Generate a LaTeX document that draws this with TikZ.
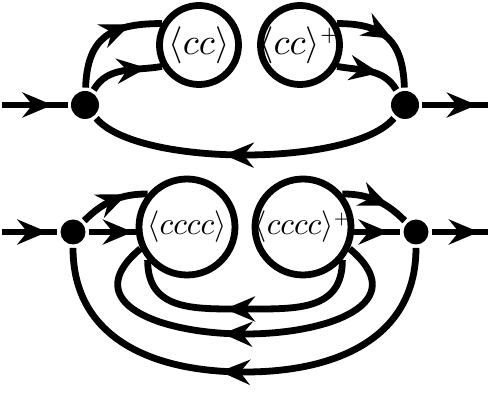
\documentclass[tikz,border=0pt]{standalone}
\usepackage{amsmath}
\usepackage{graphicx}
\usetikzlibrary{arrows.meta,positioning,calc,decorations.markings}
\tikzset{
  flow/.style={postaction={decorate},decoration={markings,
    mark=at position #1 with {\arrow[xshift=15pt]{Stealth[length=30pt,width=25pt,inset=10pt]}}}},
  flow/.default=0.5,
  vertex/.style={circle,fill,inner sep=0pt,minimum size=#1},
  vertex/.default=28pt,
  blob/.style={circle,draw,fill=white,inner sep=0pt,minimum size=#1},
}
\newcommand{\corr}[2][3.7]{\makebox[0pt]{\scalebox{#1}{$#2$}}}

\begin{document}
\begin{tikzpicture}[x=1pt,y=1pt,line width=6.8pt]
  \useasboundingbox (0,0) rectangle (490,393);

  % two-point loop
  \node[vertex] (L1) at (85,288) {};
  \node[vertex] (R1) at (405,288) {};
  \node[blob=79pt] (A) at (199,348) {\corr{\langle cc\rangle}};
  \node[blob=79pt] (B) at (300,348) {\corr{\langle cc\rangle^{\scriptscriptstyle +}}};
  \coordinate (in1) at (2,288);
  \coordinate (out1) at (488,288);
  \draw[flow=0.6] (L1) to[out=88,in=180,looseness=1.3] (A.150);
  \draw[flow=0.6] (L1) to[out=60,in=190] (A.210);
  \draw[flow=0.4] (B.30) to[out=0,in=92,looseness=1.3] (R1);
  \draw[flow=0.42] (B.330) to[out=-10,in=120] (R1);
  \draw[flow=0.52] (R1) to[out=-130,in=-50,looseness=0.55] (L1);

  % four-point loop
  \node[vertex=25pt] (L2) at (73,161) {};
  \node[vertex=25pt] (R2) at (416,161) {};
  \node[blob=96pt] (C) at (187,166) {\corr[3.15]{\langle cccc\rangle}};
  \node[blob=96pt] (D) at (303,166) {\corr[3.15]{\langle cccc\rangle^{\scriptscriptstyle +}}};
  \coordinate (in2) at (2,161);
  \coordinate (out2) at (488,161);
  \coordinate (low1) at (245,84);
  \coordinate (low2) at (245,59);
  \coordinate (low3) at (245,21);
  \draw[flow=0.5] (L2) to[out=45,in=180] (C.140);
  \draw[flow=0.62] (L2) -- (C.west |- L2);
  \draw[flow=0.48] (D.40) to[out=0,in=135] (R2);
  \draw[flow=0.42] (D.east |- R2) -- (R2);
  \draw[flow=0.52] (D.-40) to[out=-90,in=0,looseness=1.2] (low1) to[out=180,in=-90,looseness=1.2] (C.-140);
  \draw[flow=0.52] (D.-25) to[out=-40,in=0,looseness=1.6] (low2) to[out=180,in=-140,looseness=1.6] (C.-155);
  \draw[flow=0.52] (R2) to[out=-90,in=0,looseness=1.1] (low3) to[out=180,in=-90,looseness=1.1] (L2);

  \foreach \a/\b/\p in {in1/L1/0.54,R1/out1/0.6,in2/L2/0.55,R2/out2/0.57}
    \draw[flow=\p] (\a) -- (\b);
\end{tikzpicture}
\end{document}
